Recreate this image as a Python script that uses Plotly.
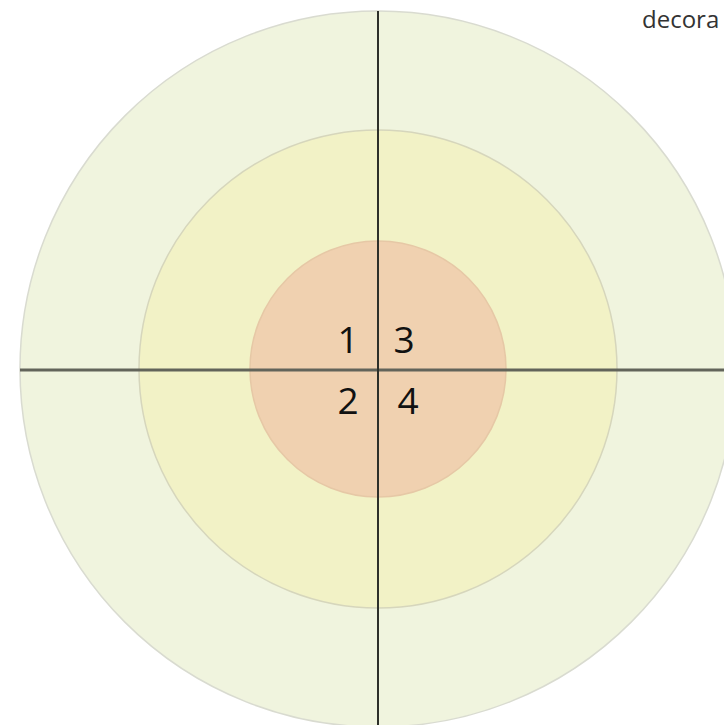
import plotly.graph_objects as go

# Data
ring_names = ["outer", "middle", "inner"]
ring_radii = [358, 239, 128]
ring_colors = ["#F0F4DE", "#F2F2C6", "#F0D1B0"]
ring_edges = ["#D9DBD0", "#D6D6BC", "#E6C8A6"]
quadrant_labels = ["1", "3", "2", "4"]
label_x = [-30, 26, -30, 30]
label_y = [25, 25, -36, -36]
corner_text = "decora"

fig = go.Figure()

shapes = []
for r, c, e in zip(ring_radii, ring_colors, ring_edges):
    shapes.append(dict(type="circle", xref="x", yref="y",
                       x0=-r, x1=r, y0=-r, y1=r,
                       fillcolor=c, line=dict(color=e, width=1.5), layer="below"))

R = ring_radii[0]
# crosshair lines
shapes.append(dict(type="line", xref="x", yref="y", x0=-R, x1=346, y0=-1, y1=-1,
                   line=dict(color="#62645A", width=3)))
shapes.append(dict(type="line", xref="x", yref="y", x0=0, x1=0, y0=R, y1=-360,
                   line=dict(color="#2E302A", width=2)))

fig.add_trace(go.Scatter(x=label_x, y=label_y, mode="text", text=quadrant_labels,
                         textfont=dict(family="Open Sans", size=37, color="#111111"),
                         hoverinfo="skip", showlegend=False))

fig.add_annotation(x=343, y=369, xref="x", yref="y", text=corner_text,
                   showarrow=False, xanchor="right", yanchor="top",
                   font=dict(family="Open Sans", size=24, color="#333333"),
                   yshift=0)

fig.update_layout(
    width=724, height=725,
    margin=dict(l=0, r=0, t=0, b=0),
    paper_bgcolor="white", plot_bgcolor="white",
    shapes=shapes,
    xaxis=dict(range=[-378, 346], visible=False, fixedrange=True),
    yaxis=dict(range=[-356, 369], visible=False, fixedrange=True),
    showlegend=False,
)

fig.write_html("out.html", config={"displayModeBar": False},
               post_script="document.body.style.margin='0';document.body.style.overflow='hidden';")
